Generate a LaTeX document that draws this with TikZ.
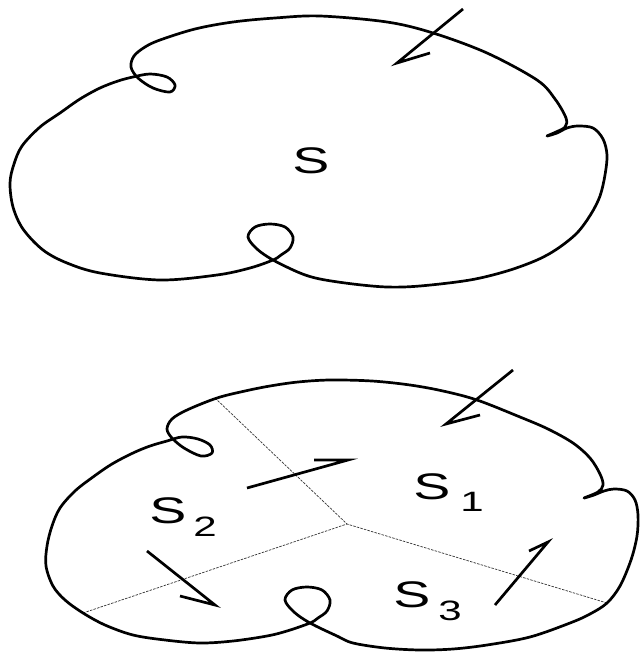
\documentclass[tikz,border=0pt]{standalone}
\usepackage{fontspec}
\setmainfont{Liberation Sans}
\newcommand{\widetxt}[1]{\scalebox{1.5}[1]{#1}}
\begin{document}
\begin{tikzpicture}[x=1pt,y=-1pt,
  outline/.style={line width=2.7pt, line join=round},
  harpoon/.style={line width=2.7pt},
  divider/.style={line width=0.7pt, black!80, dash pattern=on 2.5pt off 1.2pt},
  lbl/.style={inner sep=0pt, font=\fontsize{37}{37}\selectfont},
  sublbl/.style={inner sep=0pt, font=\fontsize{28}{28}\selectfont}]
\useasboundingbox (0,0) rectangle (640,653);

% ---------- upper figure ----------
\draw[outline] plot[smooth cycle, tension=0.55] coordinates {
 (320,16) (387,22) (433,33) (487,53) (537,80) (555,99) (566,118) (565,127)
 (556,132) (547,136) (557,133) (567,128) (578,126) (593,128) (603,139) (607,155)
 (605,175) (600,196) (591,214) (577,233) (557,249) (537,260) (507,271) (470,280)
 (420,286) (387,287) (353,284) (320,279) (300,273) (273,260) (257,249) (248,237)
 (255,227) (270,224) (285,227) (293,237) (290,248) (281,255) (273,260) (250,268)
 (217,275) (160,280) (100,273) (67,263) (43,250) (23,229) (13,207) (10,183)
 (14,164) (22,146) (40,127) (60,113) (80,99) (100,88) (118,81) (133,77)
 (150,74) (167,77) (175,85) (170,92) (153,88) (138,78) (131,67) (134,56)
 (145,47) (160,40) (195,29) (233,22) (275,18)};
\node[lbl] (s) at (311,161) {\widetxt{S}};
\coordinate (t0) at (463,9);
\coordinate (h0) at (397,63);
\coordinate (b0) at (430,53);
\draw[harpoon] (t0) -- (h0) -- (b0);

% ---------- lower figure ----------
\coordinate (J) at (347,524);
\coordinate (D1) at (215,398);
\coordinate (D2) at (83,613);
\coordinate (D3) at (607,603);
\draw[divider] (D1) -- (J);
\draw[divider] (D2) -- (J);
\draw[divider] (D3) -- (J);

\draw[outline] plot[smooth cycle, tension=0.55] coordinates {
 (330,380) (372,381) (410,385) (443,391) (477,400) (520,417) (548,429) (573,443) (590,458)
 (600,474) (603,485) (598,492) (584,498) (594,495) (604,491) (614,489) (627,491)
 (635,500) (638,515) (637,536) (631,560) (620,586) (607,603) (590,614) (570,623)
 (530,637) (487,645) (453,649) (420,650) (385,648) (353,643) (337,636) (310,623)
 (294,612) (285,600) (292,590) (307,587) (322,590) (330,600) (327,611) (318,618)
 (310,623) (287,631) (267,636) (233,641) (200,643) (165,640) (133,635) (105,625)
 (83,613) (65,600) (53,586) (46,566) (47,546) (52,526) (60,508) (75,491)
 (93,477) (112,464) (133,453) (150,446) (167,441) (182,437) (198,439) (210,445)
 (212,453) (201,456) (184,448) (172,438) (167,429) (172,419) (187,410) (217,398)
 (245,391) (270,386) (298,382)};

\node[lbl] (s1) at (432,487) {\widetxt{S}};
\node[sublbl] (s1i) at (472,502) {\widetxt{1}};
\node[lbl] (s2) at (168,511) {\widetxt{S}};
\node[sublbl] (s2i) at (205,527) {\widetxt{2}};
\node[lbl] (s3) at (412,595) {\widetxt{S}};
\node[sublbl] (s3i) at (450,611) {\widetxt{3}};

\coordinate (t1) at (513,370); \coordinate (h1) at (446,424); \coordinate (b1) at (480,415);
\coordinate (t2) at (247,488); \coordinate (h2) at (348,460); \coordinate (b2) at (314,460);
\coordinate (t3) at (147,551); \coordinate (h3) at (215,605); \coordinate (b3) at (180,596);
\coordinate (t4) at (495,605); \coordinate (h4) at (548,542); \coordinate (b4) at (529,551);
\draw[harpoon] (t1) -- (h1) -- (b1);
\draw[harpoon] (t2) -- (h2) -- (b2);
\draw[harpoon] (t3) -- (h3) -- (b3);
\draw[harpoon] (t4) -- (h4) -- (b4);
\end{tikzpicture}
\end{document}
